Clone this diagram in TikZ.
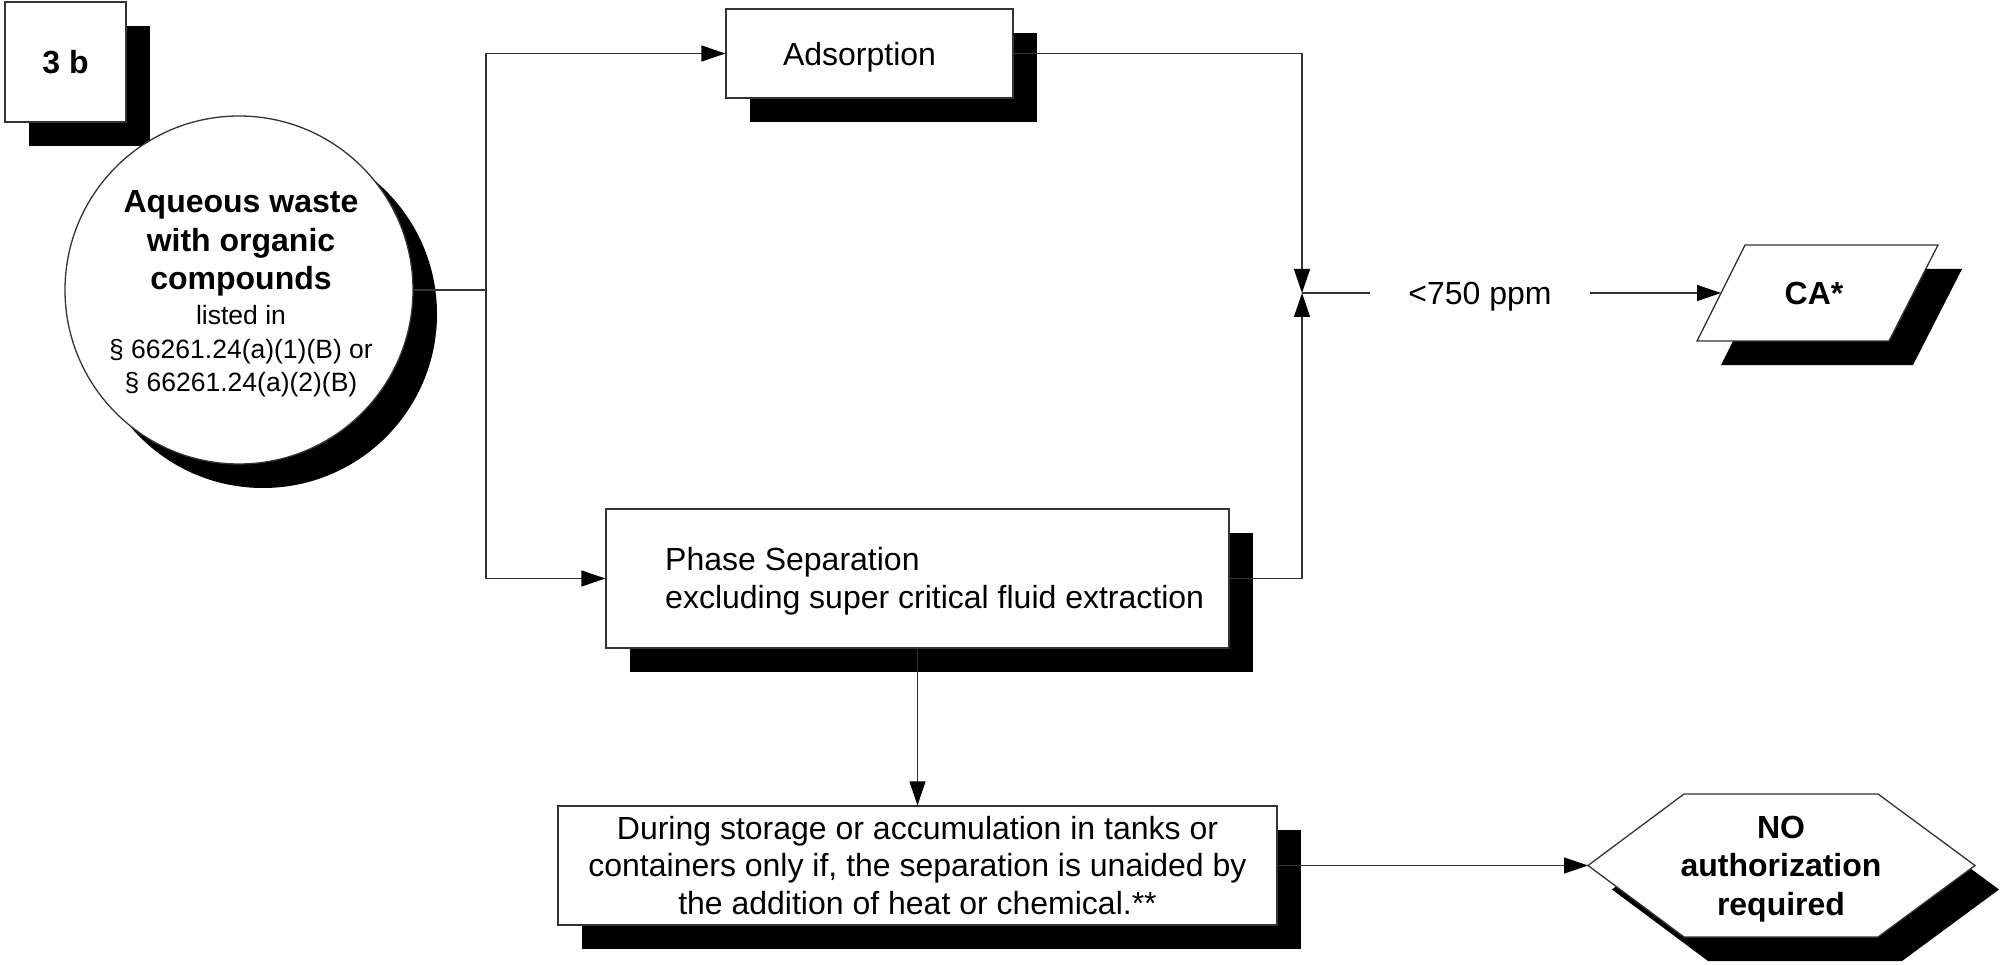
\documentclass[tikz,border=0pt]{standalone}
\usepackage{fontspec}
\setmainfont{Liberation Sans}
\usetikzlibrary{arrows.meta,shadows}
\tikzset{
  conn/.style={line width=1.3pt, draw=black!80},
  arr/.style={conn, -{Triangle[length=24pt,width=16pt,color=black]}},
  shad/.style={drop shadow={shadow xshift=24pt, shadow yshift=-24pt, fill=black, opacity=1}},
  box/.style={rectangle, draw=black!80, line width=1.3pt, fill=white, shad, inner sep=0pt},
  circ/.style={circle, draw=black!80, line width=1.3pt, fill=white, shad, inner sep=0pt},
  shapeline/.style={draw=black!80, line width=1.3pt, fill=white},
  shadowfill/.style={fill=black, draw=none},
  reg/.style={font=\fontsize{32}{37.5}\selectfont},
  bold/.style={font=\fontsize{32}{38.5}\selectfont\bfseries},
}
\begin{document}
\begin{tikzpicture}[x=1pt, y=-1pt]
\useasboundingbox (0,0) rectangle (2007,965);

% label box
\node[box, bold, minimum width=121pt, minimum height=120pt] (id) at (65.5,62) {3 b};

% circle
\node[circ, minimum size=348pt] (waste) at (239,290) {};
\node[align=center, font=\fontsize{26.5}{33.5}\selectfont, inner sep=0pt] (wastetxt) at (241,294)
  {{\fontsize{32}{38.5}\bfseries\selectfont Aqueous waste}\\[5pt]
   {\fontsize{32}{38.5}\bfseries\selectfont with organic}\\[5pt]
   {\fontsize{32}{38.5}\bfseries\selectfont compounds}\\[1.5pt]
   listed in\\
   \S\ 66261.24(a)(1)(B) or\\
   \S\ 66261.24(a)(2)(B)};

% process boxes
\node[box, reg, text depth=0pt, minimum width=287pt, minimum height=89pt] (ads) at (869.5,53.5) {\hspace*{-20pt}Adsorption};
\node[box, minimum width=623pt, minimum height=139pt] (phase) at (917.5,578.5) {};
\node[reg, anchor=west, align=left, inner sep=0pt] (phasetxt) at (665,581)
  {Phase Separation\\excluding super critical fluid extraction};
\node[box, reg, align=center, minimum width=719pt, minimum height=119pt] (during) at (917.5,865.5)
  {During storage or accumulation in tanks or\\
   containers only if, the separation is unaided by\\
   the addition of heat or chemical.**};

% CA parallelogram
\fill[shadowfill] (1769,269) -- (1962,269) -- (1913,365) -- (1721,365) -- cycle;
\path[shapeline] (1745,245) -- (1938,245) -- (1889,341) -- (1697,341) -- cycle;
\node[bold] (ca) at (1814,293) {CA*};
\coordinate (caw) at (1721,293);

% hexagon
\fill[shadowfill] (1612,889.5) -- (1708,818) -- (1902,818) -- (1999,889.5) -- (1902,961) -- (1708,961) -- cycle;
\path[shapeline] (1588,865.5) -- (1684,794) -- (1878,794) -- (1975,865.5) -- (1878,937) -- (1684,937) -- cycle;
\node[bold, align=center] (noauth) at (1781,869) {NO\\authorization\\required};
\coordinate (hexw) at (1588,865.5);

% connectors
\coordinate (fork) at (486,290);
\coordinate (junc) at (1302,293);
\draw[conn] (waste.east) -- (fork);
\draw[arr] (fork) |- (ads.west);
\draw[arr] (fork) |- (phase.west);
\draw[arr] (ads.east) -| (junc);
\draw[arr] (phase.east) -| (junc);
\node[reg, text depth=0pt, inner xsep=38pt, inner ysep=0pt] (ppm) at (1480,293) {<750 ppm};
\draw[conn] (junc) -- (ppm.west);
\draw[arr] (ppm.east) -- (caw);
\draw[arr] (phase.south) -- (during.north);
\draw[arr] (during.east) -- (hexw);
\end{tikzpicture}
\end{document}
